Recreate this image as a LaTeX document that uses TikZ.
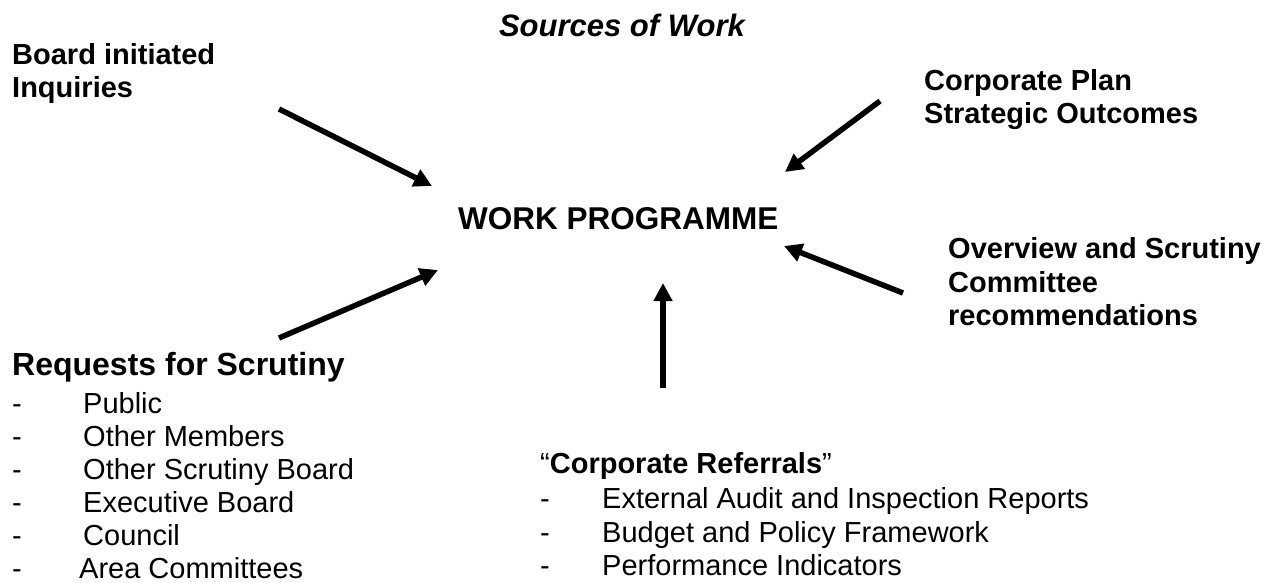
\documentclass[tikz,border=0pt]{standalone}
\usepackage{fontspec}
\setmainfont{Liberation Sans}
\usetikzlibrary{arrows.meta}
\begin{document}
\begin{tikzpicture}[x=1pt,y=-1pt,
  txt/.style={inner sep=0pt,anchor=base west,font=\fontsize{29}{33}\selectfont},
  bold/.style={txt,font=\fontsize{29}{33}\selectfont\bfseries},
  big/.style={txt,font=\fontsize{32}{36}\selectfont\bfseries},
  feed/.style={line width=5.5pt,-{Triangle[length=18pt,width=18pt]}}]
\useasboundingbox (0,0) rectangle (1274,583);

% headings
\node[txt,anchor=base east,font=\fontsize{31}{35}\selectfont\bfseries\itshape] (title) at (745,37) {Sources of Work};
\node[txt,font=\fontsize{31.5}{36}\selectfont\bfseries] (wp) at (458,229) {WORK PROGRAMME};

% sources
\node[bold] (board1) at (12,65) {Board initiated};
\node[bold] (board2) at (12,98) {Inquiries};
\node[bold] (corp1) at (924,91) {Corporate Plan};
\node[bold] (corp2) at (924,124) {Strategic Outcomes};
\node[bold] (ov1) at (948,258) {Overview and Scrutiny};
\node[bold] (ov2) at (948,292) {Committee};
\node[bold] (ov3) at (948,325) {recommendations};

% requests list
\node[big] (req) at (12,375) {Requests for Scrutiny};
\foreach \n/\y/\x/\t in {1/413/83/Public,2/446/83/Other Members,3/479/83/Other Scrutiny Board,
                         4/512/83/Executive Board,5/545/83/Council,6/578/79/Area Committees}{
  \node[txt] (reqd\n) at (12,\y) {-};
  \node[txt] (reqi\n) at (\x,\y) {\t};
}

% corporate referrals list
\node[txt] (ref) at (540,473) {“\textbf{Corporate Referrals}”};
\foreach \n/\y/\t in {1/508/External Audit and Inspection Reports,2/542/Budget and Policy Framework,
                      3/575/Performance Indicators}{
  \node[txt] (refd\n) at (540,\y) {-};
  \node[txt] (refi\n) at (602,\y) {\t};
}

% arrow ends
\coordinate (a1s) at (279,109); \coordinate (a1e) at (432,186);
\coordinate (a2s) at (880,101); \coordinate (a2e) at (785,172);
\coordinate (a3s) at (903,293); \coordinate (a3e) at (784,246);
\coordinate (a4s) at (279,338); \coordinate (a4e) at (438,270);
\coordinate (a5s) at (663,388); \coordinate (a5e) at (663,283);

\draw[feed] (a1s) -- (a1e);
\draw[feed] (a2s) -- (a2e);
\draw[feed] (a3s) -- (a3e);
\draw[feed] (a4s) -- (a4e);
\draw[feed] (a5s) -- (a5e);
\end{tikzpicture}
\end{document}
